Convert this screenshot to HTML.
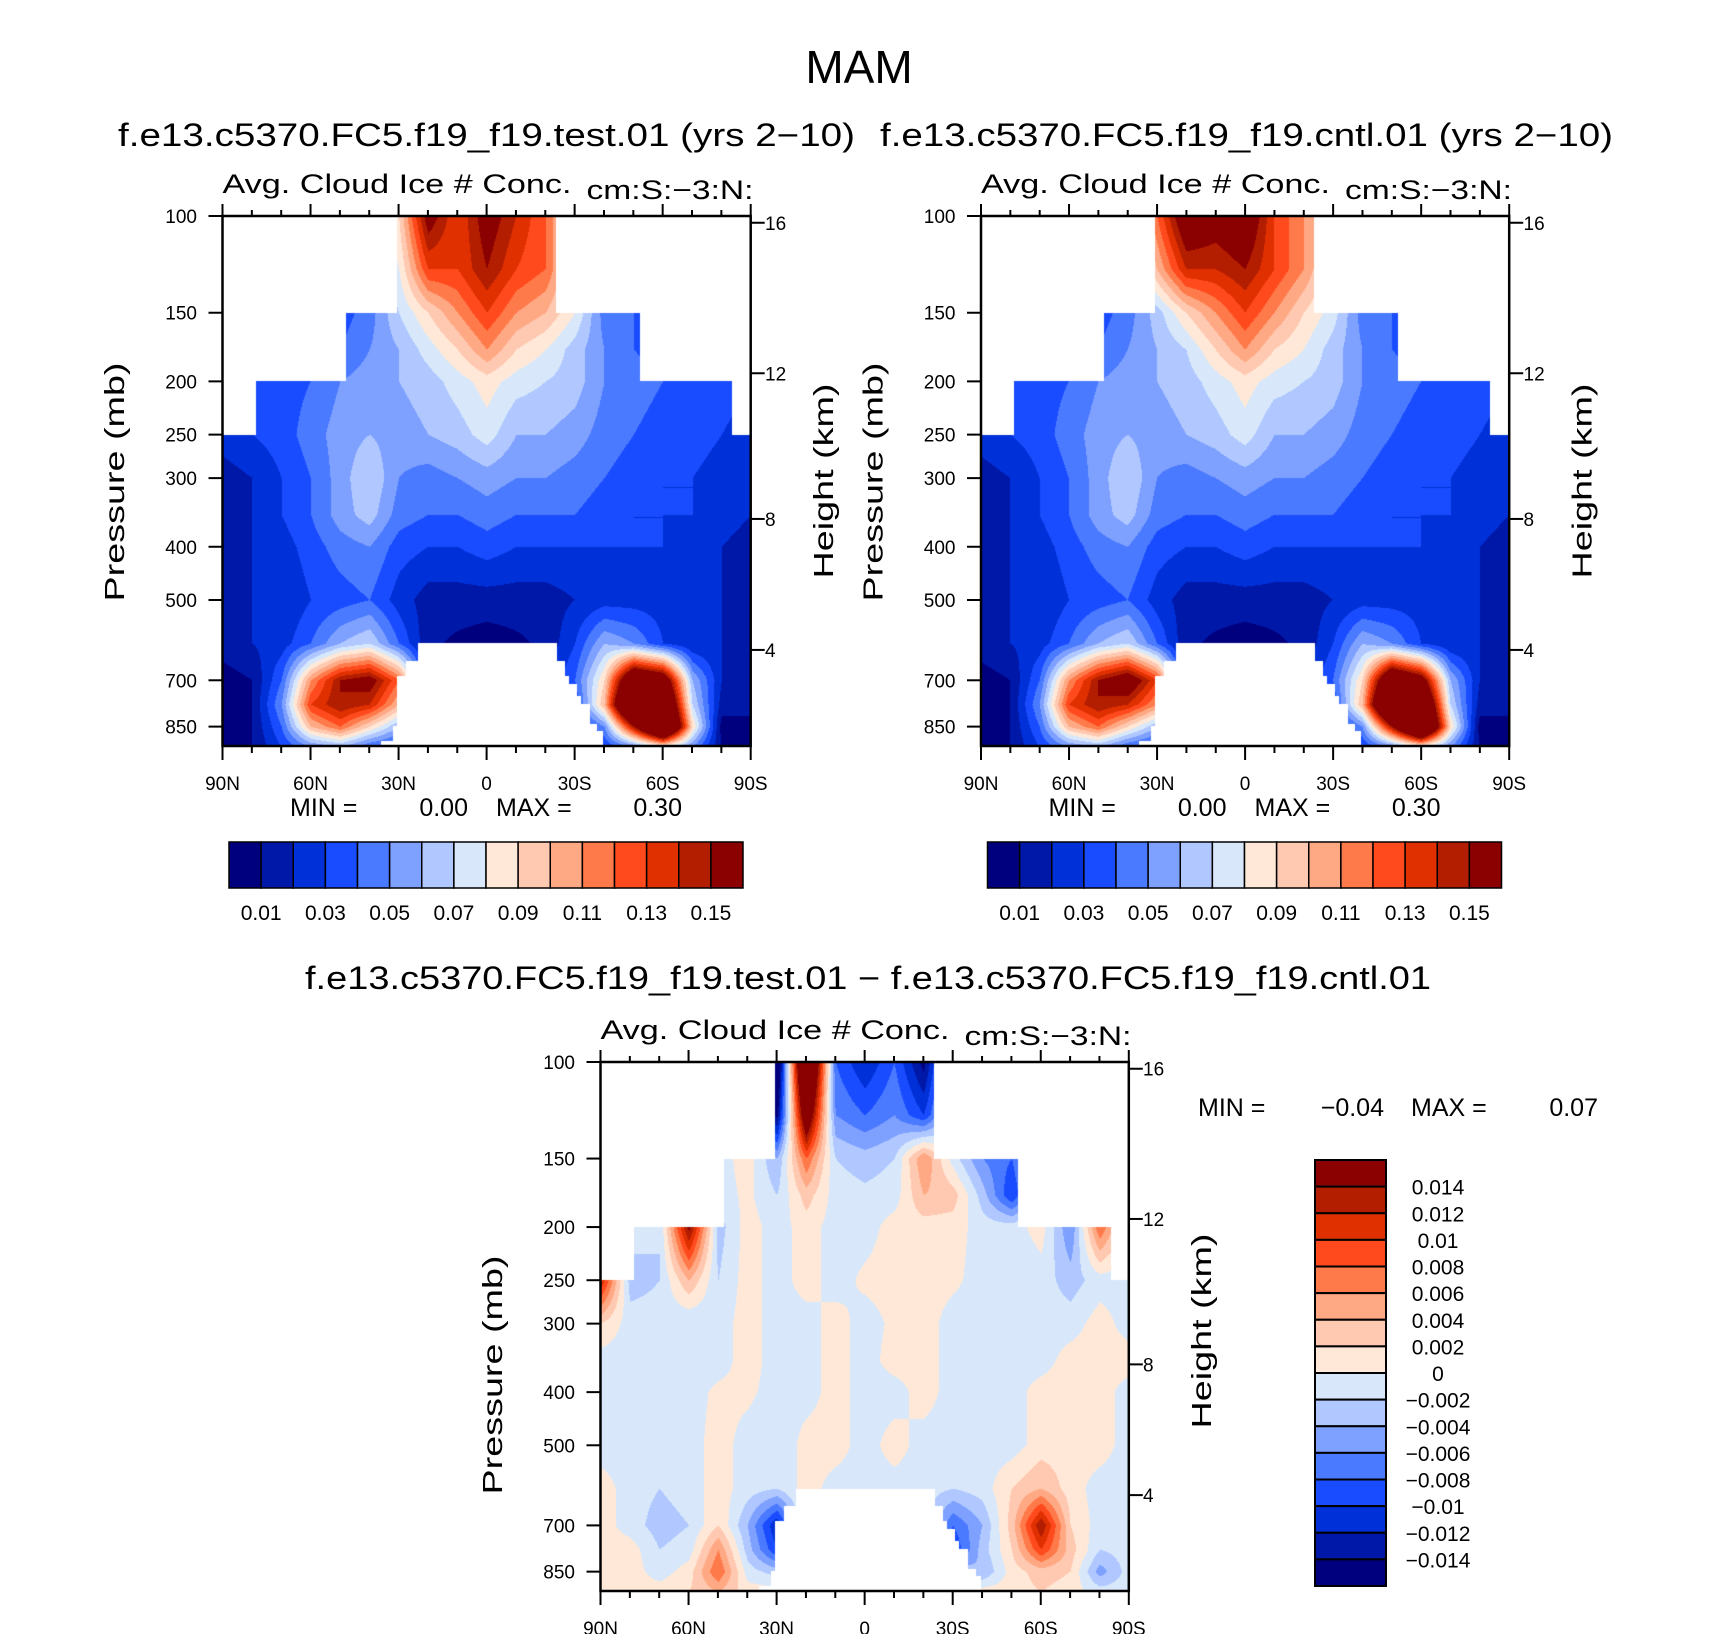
<!DOCTYPE html>
<html><head><meta charset="utf-8">
<style>
html,body{margin:0;padding:0;background:#fff;}
#root{position:relative;width:1710px;height:1634px;overflow:hidden;background:#fff;}
canvas{position:absolute;}
svg{position:absolute;left:0;top:0;}
text{font-family:"Liberation Sans",sans-serif;fill:#000;}
</style></head>
<body>
<div id="root">
<canvas id="c1"></canvas>
<canvas id="c2"></canvas>
<canvas id="c3"></canvas>
<svg id="s" width="1710" height="1634">
<text x="859" y="83" font-size="46" text-anchor="middle">MAM</text>
<text x="118" y="146" font-size="32" textLength="737" lengthAdjust="spacingAndGlyphs">f.e13.c5370.FC5.f19_f19.test.01  (yrs  2−10)</text>
<text x="880" y="146" font-size="32" textLength="733" lengthAdjust="spacingAndGlyphs">f.e13.c5370.FC5.f19_f19.cntl.01  (yrs  2−10)</text>
<text x="305" y="989" font-size="32" textLength="1126" lengthAdjust="spacingAndGlyphs">f.e13.c5370.FC5.f19_f19.test.01  −  f.e13.c5370.FC5.f19_f19.cntl.01</text>
</svg>
</div>
<script>
// ---------- data ----------
const levP = [100,125,150,175,200,250,300,350,400,500,600,700,775,850,925];
const lats = [90,80,70,60,50,40,30,20,10,0,-10,-20,-30,-40,-50,-60,-70,-80,-90];
const testField = [
[0.03,0.03,0.03,0.03,0.04,0.06,0.09,0.16,0.13,0.16,0.14,0.12,0.08,0.05,0.04,0.04,0.03,0.03,0.03],
[0.03,0.03,0.03,0.03,0.04,0.05,0.08,0.13,0.13,0.15,0.13,0.12,0.08,0.05,0.04,0.04,0.03,0.03,0.03],
[0.03,0.03,0.03,0.03,0.035,0.045,0.07,0.09,0.11,0.13,0.11,0.10,0.08,0.045,0.04,0.035,0.03,0.03,0.03],
[0.03,0.03,0.03,0.035,0.04,0.05,0.06,0.075,0.09,0.11,0.09,0.08,0.065,0.05,0.04,0.035,0.03,0.03,0.03],
[0.025,0.03,0.035,0.04,0.05,0.055,0.06,0.065,0.075,0.085,0.075,0.07,0.065,0.05,0.045,0.04,0.04,0.04,0.03],
[0.025,0.03,0.035,0.045,0.055,0.06,0.055,0.06,0.065,0.075,0.06,0.06,0.055,0.045,0.04,0.035,0.035,0.03,0.02],
[0.015,0.02,0.03,0.04,0.055,0.07,0.05,0.045,0.05,0.055,0.05,0.05,0.045,0.04,0.035,0.03,0.03,0.025,0.02],
[0.015,0.02,0.03,0.04,0.055,0.065,0.045,0.04,0.04,0.045,0.04,0.04,0.04,0.035,0.03,0.03,0.03,0.025,0.02],
[0.015,0.02,0.025,0.035,0.045,0.05,0.035,0.03,0.03,0.035,0.03,0.03,0.03,0.03,0.03,0.03,0.025,0.02,0.015],
[0.015,0.02,0.02,0.03,0.035,0.04,0.025,0.015,0.015,0.015,0.015,0.015,0.02,0.025,0.025,0.025,0.025,0.02,0.015],
[0.015,0.02,0.025,0.04,0.06,0.07,0.04,0.012,0.008,0.005,0.008,0.012,0.03,0.06,0.05,0.03,0.02,0.02,0.015],
[0.005,0.01,0.04,0.11,0.15,0.16,0.12,0.02,0.01,0.01,0.01,0.02,0.04,0.09,0.2,0.18,0.06,0.02,0.015],
[0.005,0.01,0.05,0.13,0.15,0.14,0.10,0.02,0.01,0.01,0.01,0.02,0.03,0.10,0.25,0.22,0.07,0.015,0.01],
[0.005,0.01,0.04,0.10,0.12,0.09,0.06,0.02,0.01,0.01,0.01,0.02,0.02,0.05,0.15,0.25,0.09,0.005,0.01],
[0.005,0.01,0.03,0.05,0.06,0.04,0.03,0.02,0.01,0.01,0.01,0.01,0.01,0.03,0.05,0.08,0.05,0.01,0.01]
];
const cntlField = [
[0.03,0.03,0.03,0.03,0.04,0.06,0.12,0.17,0.16,0.17,0.13,0.11,0.08,0.05,0.04,0.04,0.03,0.03,0.03],
[0.03,0.03,0.03,0.03,0.04,0.05,0.10,0.14,0.14,0.15,0.13,0.11,0.08,0.05,0.04,0.04,0.03,0.03,0.03],
[0.03,0.03,0.03,0.03,0.035,0.045,0.065,0.09,0.11,0.13,0.11,0.09,0.075,0.045,0.04,0.035,0.03,0.03,0.03],
[0.03,0.03,0.03,0.035,0.04,0.05,0.06,0.07,0.09,0.11,0.09,0.08,0.065,0.05,0.04,0.035,0.03,0.03,0.03],
[0.025,0.03,0.035,0.04,0.05,0.055,0.06,0.065,0.075,0.085,0.075,0.07,0.065,0.05,0.045,0.04,0.04,0.04,0.03],
[0.025,0.03,0.035,0.045,0.055,0.06,0.055,0.06,0.065,0.075,0.06,0.06,0.055,0.045,0.04,0.035,0.035,0.03,0.02],
[0.015,0.02,0.03,0.04,0.055,0.07,0.05,0.045,0.05,0.055,0.05,0.05,0.045,0.04,0.035,0.03,0.03,0.025,0.02],
[0.015,0.02,0.03,0.04,0.055,0.065,0.045,0.04,0.04,0.045,0.04,0.04,0.04,0.035,0.03,0.03,0.03,0.025,0.02],
[0.015,0.02,0.025,0.035,0.045,0.05,0.035,0.03,0.03,0.035,0.03,0.03,0.03,0.03,0.03,0.03,0.025,0.02,0.015],
[0.015,0.02,0.02,0.03,0.035,0.04,0.025,0.015,0.015,0.015,0.015,0.015,0.02,0.025,0.025,0.025,0.025,0.02,0.015],
[0.015,0.02,0.025,0.04,0.06,0.07,0.04,0.012,0.008,0.005,0.008,0.012,0.03,0.06,0.05,0.03,0.02,0.02,0.015],
[0.005,0.01,0.04,0.11,0.15,0.17,0.13,0.02,0.01,0.01,0.01,0.02,0.04,0.09,0.2,0.17,0.06,0.02,0.015],
[0.005,0.01,0.05,0.13,0.15,0.14,0.11,0.02,0.01,0.01,0.01,0.02,0.03,0.10,0.25,0.22,0.07,0.015,0.01],
[0.005,0.01,0.04,0.10,0.12,0.09,0.06,0.02,0.01,0.01,0.01,0.02,0.02,0.05,0.15,0.25,0.09,0.005,0.01],
[0.005,0.01,0.03,0.05,0.06,0.04,0.03,0.02,0.01,0.01,0.01,0.01,0.01,0.03,0.05,0.08,0.05,0.01,0.01]
];
const diffField = [
[-.001,-.001,-.001,-.001,-.001,-.001,-.02,.03,-.008,-.012,-.008,-.015,-.001,-.001,-.001,-.001,-.001,-.001,-.001],
[-.001,-.001,-.001,-.001,-.001,-.001,-.015,.02,-.006,-.008,-.006,-.01,-.001,-.001,-.001,-.001,-.001,-.001,-.001],
[-.001,-.001,-.001,-.001,-.001,.001,-.004,.008,-.002,-.003,-.002,.006,-.001,-.006,-.008,-.001,-.001,-.001,-.001],
[-.001,-.001,-.001,-.001,-.001,.0005,-.002,.003,-.001,-.0015,-.001,.004,.003,-.003,-.01,-.001,-.001,-.001,-.001],
[-.001,-.001,-.002,.015,-.003,.001,-.001,.001,-.001,-.001,.001,.001,.001,-.001,-.001,.001,-.006,.008,-.001],
[.012,-.003,-.002,.004,-.002,.001,-.001,.001,-.001,.0005,.001,.001,.0005,-.001,-.002,-.001,-.003,-.001,-.001],
[.002,-.001,-.001,-.002,-.001,.001,-.001,-.001,.001,-.001,.0005,.001,-.001,-.001,-.001,-.001,-.001,.001,-.001],
[-.001,-.001,-.001,-.001,-.001,.001,-.001,-.001,.001,-.001,.001,.001,-.001,-.001,-.001,-.001,.001,.001,.001],
[-.001,-.001,-.001,-.001,.0005,.0005,-.001,-.001,.001,-.001,-.001,.001,-.001,-.001,-.001,.001,.001,.001,-.001],
[-.001,-.001,-.001,-.001,.001,-.001,-.002,.001,.001,-.001,.001,-.001,-.001,-.001,-.001,.001,.001,.001,-.001],
[.001,-.001,-.002,-.001,.001,-.001,-.002,.001,-.001,-.001,-.001,-.001,-.002,-.001,.002,.004,.001,-.001,-.001],
[.001,-.001,-.003,-.002,.002,-.004,-.012,.001,-.001,-.001,-.001,-.001,-.008,-.004,.003,.014,.002,-.001,-.001],
[.001,.001,-.002,-.001,.006,-.003,-.01,-.001,-.001,-.001,-.001,-.001,-.01,-.003,.002,.01,.003,-.002,-.001],
[.001,.001,-.001,.001,.008,-.001,-.003,.001,-.001,-.001,-.001,-.001,-.002,-.004,.001,.003,.002,-.005,-.001],
[.001,.001,.001,.002,.004,.001,.001,.001,.001,.001,.001,.001,.001,.001,.001,.002,.001,-.001,-.001]
];
const absLevels = [0.01,0.02,0.03,0.04,0.05,0.06,0.07,0.08,0.09,0.10,0.11,0.12,0.13,0.14,0.15];
const diffLevels = [-0.014,-0.012,-0.010,-0.008,-0.006,-0.004,-0.002,0,0.002,0.004,0.006,0.008,0.010,0.012,0.014];
const absBarLabels = ["0.01","0.03","0.05","0.07","0.09","0.11","0.13","0.15"];
const diffBarLabels = ["0.014","0.012","0.01","0.008","0.006","0.004","0.002","0","−0.002","−0.004","−0.006","−0.008","−0.01","−0.012","−0.014"];
const presTicks = [100,150,200,250,300,400,500,700,850];
const heightTicks = [4,8,12,16];
const latTickVals = [90,60,30,0,-30,-60,-90];
const latTickLabels = ["90N","60N","30N","0","30S","60S","90S"];
// data-availability mask: top steps and ground
const maskP = [150,200,250];
const maskLatN = [30.6,48,78.8];
const maskLatS = [-23.5,-52,-83.6];
const groundLat = [23.6,-23.7,-23.7,-26.5,-26.5,-28,-28,-30.7,-30.7,-32,-32,-35,-35,-37.6,-37.6,-39.4,-39.4,36,36,32,32,30.6,30.6,27.6,27.6,23.6];
const groundP = [600,600,646,646,688,688,710,710,748,748,772,772,840,840,866,866,960,960,903,903,848,848,688,688,646,646];

const colors = ["#00007f","#0018a8","#0030d8","#1a4cff","#4a7aff","#7ea0ff","#b0c8ff","#d8e8fa","#ffe8d8","#ffc8b0","#ffa884","#ff7a4a","#ff4a1e","#e03000","#b41e00","#8b0000"];

const P_BOT = 922;
function makeAxes(x0,y0,W,H){
  const l0=Math.log(100), l1=Math.log(P_BOT);
  return {
    x:lat=>x0+(90-lat)/180*W,
    y:p=>y0+(Math.log(p)-l0)/(l1-l0)*H,
    lat:px=>90-(px-x0)/W*180,
    p:py=>Math.exp(l0+(py-y0)/H*(l1-l0)),
    x0,y0,W,H
  };
}
function zToP(z){ // km, standard atmosphere
  const m=z*1000;
  if(m<=11000) return 1013.25*Math.pow(1-2.25577e-5*m,5.25588);
  return 226.32*Math.exp(-0.000157688*(m-11000));
}
function sample(field,lat,p){
  let fi=(90-lat)/10; fi=Math.max(0,Math.min(18,fi));
  const i0=Math.min(17,Math.floor(fi)), ti=fi-i0;
  const lp=Math.log(p);
  let j0=0;
  while(j0<levP.length-2 && Math.log(levP[j0+1])<lp) j0++;
  let tj=(lp-Math.log(levP[j0]))/(Math.log(levP[j0+1])-Math.log(levP[j0]));
  tj=Math.max(0,Math.min(1,tj));
  const a=field[j0][i0],b=field[j0][i0+1],c=field[j0+1][i0],d=field[j0+1][i0+1];
  return (a*(1-ti)+b*ti)*(1-tj)+(c*(1-ti)+d*ti)*tj;
}
function inGround(lat,p){
  let inside=false;
  for(let i=0,j=groundLat.length-1;i<groundLat.length;j=i++){
    const xi=groundLat[i],yi=groundP[i],xj=groundLat[j],yj=groundP[j];
    if(((yi>p)!==(yj>p)) && (lat < (xj-xi)*(p-yi)/(yj-yi)+xi)) inside=!inside;
  }
  return inside;
}
function masked(lat,p){
  for(let k=0;k<maskP.length;k++){
    if(p<maskP[k] && (lat>maskLatN[k]||lat<maskLatS[k])) return true;
  }
  return inGround(lat,p);
}
function hex(c){return [parseInt(c.substr(1,2),16),parseInt(c.substr(3,2),16),parseInt(c.substr(5,2),16)];}
const rgb=colors.map(hex);
function drawField(id,field,levels,ax){
  const cv=document.getElementById(id);
  const W=Math.round(ax.W),H=Math.round(ax.H);
  cv.width=W;cv.height=H;cv.style.left=ax.x0+'px';cv.style.top=ax.y0+'px';
  const ctx=cv.getContext('2d');const img=ctx.createImageData(W,H);
  for(let py=0;py<H;py++){
    const p=ax.p(ax.y0+py+0.5);
    for(let px=0;px<W;px++){
      const lat=ax.lat(ax.x0+px+0.5);
      const k=(py*W+px)*4;
      if(masked(lat,p)){img.data[k]=255;img.data[k+1]=255;img.data[k+2]=255;img.data[k+3]=255;continue;}
      const v=sample(field,lat,p);
      let idx=0;while(idx<levels.length && v>=levels[idx]) idx++;
      const c=rgb[idx];
      img.data[k]=c[0];img.data[k+1]=c[1];img.data[k+2]=c[2];img.data[k+3]=255;
    }
  }
  ctx.putImageData(img,0,0);
}
const NS="http://www.w3.org/2000/svg";
const svg=document.getElementById('s');
function el(tag,attrs){const e=document.createElementNS(NS,tag);for(const k in attrs)e.setAttribute(k,attrs[k]);svg.appendChild(e);return e;}
function txt(x,y,s,size,anchor){const t=el('text',{x:x,y:y,'font-size':size,'text-anchor':anchor||'start'});t.textContent=s;return t;}

function drawAxes(ax,prefix,presLabelX,heightLabelX,presTitle,heightTitle){
  const x1=ax.x0+ax.W,y1=ax.y0+ax.H;
  const box=el('rect',{x:ax.x0,y:ax.y0,width:ax.W,height:ax.H,fill:'none',stroke:'#000','stroke-width':2.5});
  
  
  for(let lat=90;lat>=-90;lat-=10){
    const major=(lat%30===0);
    const x=ax.x(lat);
    const tb=el('line',{x1:x,x2:x,y1:y1,y2:y1+(major?14:7),stroke:'#000','stroke-width':2});
    
    
    const tt=el('line',{x1:x,x2:x,y1:ax.y0,y2:ax.y0-(major?12:6),stroke:'#000','stroke-width':2});
    
    
  }
  latTickVals.forEach((v,i)=>{
    const t=txt(ax.x(v),y1+44,latTickLabels[i],19,'middle');
    
    
  });
  presTicks.forEach(p=>{
    const y=ax.y(p);
    const l=el('line',{x1:ax.x0-14,x2:ax.x0,y1:y,y2:y,stroke:'#000','stroke-width':2});
    
    
    const t=txt(presLabelX,y+7,String(p),19,'end');
    
    
  });
  heightTicks.forEach(z=>{
    const y=ax.y(zToP(z));
    const l=el('line',{x1:x1,x2:x1+14,y1:y,y2:y,stroke:'#000','stroke-width':2});
    
    
    const t=txt(heightLabelX,y+7,String(z),19,'start');
    
    
  });
  const pt=el('text',{x:0,y:0,'font-size':28,'text-anchor':'middle',transform:`translate(${presTitle[0]},${presTitle[1]}) rotate(-90)`,textLength:239,lengthAdjust:'spacingAndGlyphs'});
  pt.textContent='Pressure  (mb)';
  
  
  const ht=el('text',{x:0,y:0,'font-size':28,'text-anchor':'middle',transform:`translate(${heightTitle[0]},${heightTitle[1]}) rotate(-90)`,textLength:195,lengthAdjust:'spacingAndGlyphs'});
  ht.textContent='Height  (km)';
  
  
  const a=el('text',{x:ax.x0,y:ax.y0-23,'font-size':27,textLength:349,lengthAdjust:'spacingAndGlyphs'});
  a.textContent='Avg.  Cloud  Ice  #  Conc.';
  
  
  const u=el('text',{x:ax.x0+364,y:ax.y0-17,'font-size':27,textLength:167,lengthAdjust:'spacingAndGlyphs'});
  u.textContent='cm:S:−3:N:';
  
  
}
function hColorbar(x0,y0,w,h,prefix){
  const bw=w/16;
  colors.forEach((c,i)=>{
    const r=el('rect',{x:x0+i*bw,y:y0,width:bw,height:h,fill:c,stroke:'#000','stroke-width':1.5});
    
    
  });
  absBarLabels.forEach((s,i)=>{
    const t=txt(x0+(1+2*i)*bw,y0+h+32,s,21,'middle');
    
    
  });
}
function minmax(x,y,minS,maxS,prefix,pos){
  const a=txt(x+pos[0],y,'MIN  =',25,'start');
  const b=txt(x+pos[1],y,minS,25,'end');
  const c=txt(x+pos[2],y,'MAX  =',25,'start');
  const d=txt(x+pos[3],y,maxS,25,'end');
}

const ax1=makeAxes(222.5,216,528.2,530);
const ax2=makeAxes(981,216,528.2,530);
const ax3=makeAxes(600.5,1062,528.3,529);
drawField('c1',testField,absLevels,ax1);
drawField('c2',cntlField,absLevels,ax2);
drawField('c3',diffField,diffLevels,ax3);
drawAxes(ax1,'test',197,765,[124,482],[833,481]);
drawAxes(ax2,'control',955.5,1523.5,[882.5,482],[1591.5,481]);
drawAxes(ax3,'difference',575,1143,[502,1375],[1211,1331]);
hColorbar(229,842,514,46,'test');
hColorbar(987.5,842,514,46,'control');
minmax(0,816,'0.00','0.30','test',[290,468,496,682]);
minmax(758.5,816,'0.00','0.30','control',[290,468,496,682]);
minmax(0,1116,'−0.04','0.07','difference',[1198,1384,1411,1598]);
// vertical difference colorbar
const vb={x:1315,y:1160,w:71,h:426};
const vbh=vb.h/16;
for(let i=0;i<16;i++){
  const r=el('rect',{x:vb.x,y:vb.y+i*vbh,width:vb.w,height:vbh,fill:colors[15-i],stroke:'#000','stroke-width':2});
  
  
}
diffBarLabels.forEach((s,i)=>{
  const t=txt(1438,vb.y+(i+1)*vbh+8,s,21,'middle');
  
  
});
</script>
</body></html>
